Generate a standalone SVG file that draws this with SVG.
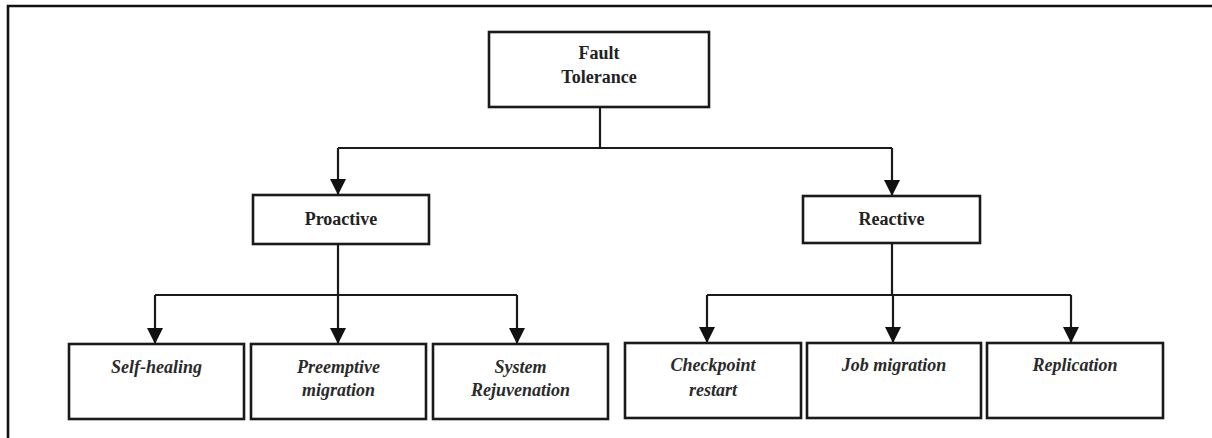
<svg xmlns="http://www.w3.org/2000/svg" width="1212" height="438" viewBox="0 0 1212 438">
  <style>
    .box { fill: #ffffff; stroke: #1a1a1a; stroke-width: 2.6; }
    .wire { fill: none; stroke: #1a1a1a; stroke-width: 2.2; }
    .frame { fill: none; stroke: #111111; stroke-width: 2.6; }
    .t { font-family: "Liberation Serif", "Times New Roman", serif; font-weight: bold; font-size: 18px; fill: #222222; text-anchor: middle; }
    .ti { font-family: "Liberation Serif", "Times New Roman", serif; font-weight: bold; font-style: italic; font-size: 18px; fill: #2a2a2a; text-anchor: middle; }
  </style>
  <defs>
    <marker id="arr" viewBox="0 0 16 16" refX="16" refY="8" markerWidth="16" markerHeight="16" markerUnits="userSpaceOnUse" orient="auto">
      <path d="M0,0 L16,8 L0,16 Z" fill="#111111"/>
    </marker>
  </defs>
  <rect width="1212" height="438" fill="#ffffff"/>
  <path class="frame" d="M8,438 V6 H1212"/>

  <g id="connectors">
    <path class="wire" d="M600,107 V148"/>
    <path class="wire" d="M338,148 H892"/>
    <path class="wire" d="M338,148 V195" marker-end="url(#arr)"/>
    <path class="wire" d="M892,148 V196" marker-end="url(#arr)"/>
    <path class="wire" d="M338,244 V295"/>
    <path class="wire" d="M155,295 H517"/>
    <path class="wire" d="M155,295 V344" marker-end="url(#arr)"/>
    <path class="wire" d="M338,295 V344" marker-end="url(#arr)"/>
    <path class="wire" d="M517,295 V344" marker-end="url(#arr)"/>
    <path class="wire" d="M892,243 V295"/>
    <path class="wire" d="M707,295 H1071"/>
    <path class="wire" d="M707,295 V343" marker-end="url(#arr)"/>
    <path class="wire" d="M893,295 V343" marker-end="url(#arr)"/>
    <path class="wire" d="M1071,295 V343" marker-end="url(#arr)"/>
  </g>

  <g id="fault-tolerance">
    <rect class="box" x="489" y="32" width="220" height="75"/>
    <text class="t" x="599" y="59">Fault</text>
    <text class="t" x="599" y="83">Tolerance</text>
  </g>
  <g id="proactive">
    <rect class="box" x="253" y="195" width="176" height="49"/>
    <text class="t" x="341" y="225">Proactive</text>
  </g>
  <g id="reactive">
    <rect class="box" x="803" y="196" width="177" height="47"/>
    <text class="t" x="891.5" y="225">Reactive</text>
  </g>
  <g id="self-healing">
    <rect class="box" x="69" y="344" width="175" height="75"/>
    <text class="ti" x="156.5" y="373">Self-healing</text>
  </g>
  <g id="preemptive-migration">
    <rect class="box" x="251" y="344" width="175" height="75"/>
    <text class="ti" x="338.5" y="373">Preemptive</text>
    <text class="ti" x="338.5" y="396">migration</text>
  </g>
  <g id="system-rejuvenation">
    <rect class="box" x="433" y="344" width="175" height="75"/>
    <text class="ti" x="520.5" y="373">System</text>
    <text class="ti" x="520.5" y="396">Rejuvenation</text>
  </g>
  <g id="checkpoint-restart">
    <rect class="box" x="625" y="343" width="176" height="75"/>
    <text class="ti" x="713" y="371">Checkpoint</text>
    <text class="ti" x="713" y="396">restart</text>
  </g>
  <g id="job-migration">
    <rect class="box" x="807" y="343" width="174" height="75"/>
    <text class="ti" x="894" y="371">Job migration</text>
  </g>
  <g id="replication">
    <rect class="box" x="987" y="343" width="176" height="75"/>
    <text class="ti" x="1075" y="371">Replication</text>
  </g>
</svg>
